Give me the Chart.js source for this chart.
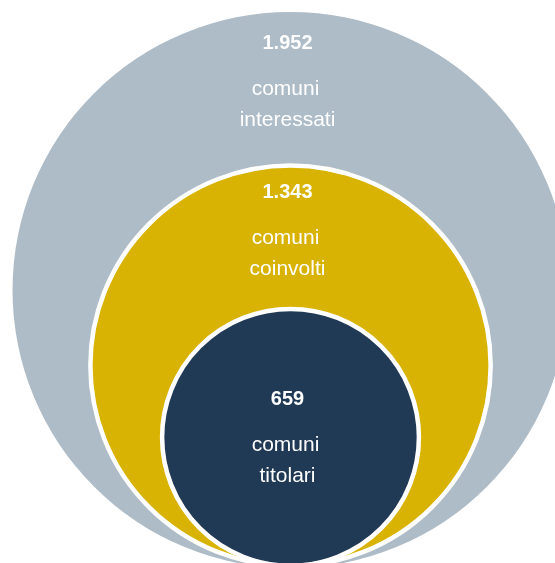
<!DOCTYPE html>
<html>
<head>
<meta charset="utf-8">
<script src="https://cdn.jsdelivr.net/npm/chart.js@4"></script>
<style>
  html, body { margin: 0; padding: 0; background: #fff; }
  #wrap { width: 555px; height: 563px; position: relative; }
</style>
</head>
<body>
<div id="wrap"><canvas id="circles"></canvas></div>
<script>
// DATA ###############################################################
var categories = [['comuni', 'interessati'], ['comuni', 'coinvolti'], ['comuni', 'titolari']];
var counts = [1952, 1343, 659];
var bubbleSize = [100, 72.8, 47]; // relative radius of each circle
var colors = ['#adbcc7', '#d9b304', '#203955'];

// numero con separatore delle migliaia all'italiana
function fmt(n) {
    return String(n).replace(/\B(?=(\d{3})+(?!\d))/g, '.');
}

var borders = [0, 4.5, 4.5];
var numberOffset = [36.7, 34.8, 98.5]; // distance from circle top to number baseline

// radius in pixels
function radiusPx(chart, i) {
    var s = chart.scales.x;
    return s.getPixelForValue(bubbleSize[i]) - s.getPixelForValue(0);
}

function pointR(c) {
    return radiusPx(c.chart, c.dataIndex) - borders[c.dataIndex] / 2;
}

var labelsPlugin = {
    id: 'circleLabels',
    afterDatasetsDraw: function(chart) {
        var ctx = chart.ctx;
        var meta = chart.getDatasetMeta(0);
        ctx.save();
        ctx.fillStyle = '#ffffff';
        ctx.textAlign = 'center';
        ctx.textBaseline = 'alphabetic';
        meta.data.forEach(function(pt, i) {
            var cx = pt.x - 3;
            var top = pt.y - radiusPx(chart, i);
            var base = top + numberOffset[i];
            ctx.font = 'bold 20px "Liberation Sans", Arial, sans-serif';
            ctx.fillText(fmt(counts[i]), cx, base);
            ctx.font = '21px "Liberation Sans", Arial, sans-serif';
            ctx.fillText(categories[i][0], cx - 2, base + 46);
            ctx.fillText(categories[i][1], cx, base + 77);
        });
        ctx.restore();
    }
};

document.addEventListener('DOMContentLoaded', function() {
    var ctx = document.getElementById('circles').getContext('2d');

    new Chart(ctx, {
        type: 'scatter',
        data: {
            datasets: [{
                // nested circles, all resting on the same bottom line (y = 0)
                data: bubbleSize.map(function(r) { return { x: 0, y: r }; }),
                backgroundColor: colors,
                borderColor: '#ffffff',
                borderWidth: borders,
                pointRadius: pointR,
                pointHoverRadius: pointR,
                clip: 0
            }]
        },
        options: {
            responsive: true,
            maintainAspectRatio: false,
            animation: false,
            events: [],
            layout: { padding: 0, autoPadding: false },
            scales: {
                x: { type: 'linear', display: false, min: -104.5, max: 95.14 },
                y: { type: 'linear', display: false, min: 1.8, max: 204.3 }
            },
            plugins: {
                legend: { display: false },
                tooltip: { enabled: false }
            }
        },
        plugins: [labelsPlugin]
    });
});
</script>
</body>
</html>
